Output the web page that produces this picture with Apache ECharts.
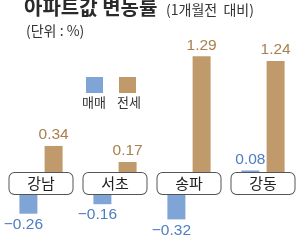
<!DOCTYPE html>
<html><head><meta charset="utf-8">
<script src="https://cdn.jsdelivr.net/npm/echarts@6/dist/echarts.min.js"></script>
<style>html,body{margin:0;padding:0;background:#fff}#c{width:300px;height:243px}</style>
</head><body><div id="c"></div>
<script>
const categories = ['강남', '서초', '송파', '강동'];
const saleValues = [-0.26, -0.16, -0.32, 0.08];   // 매매
const jeonseValues = [0.34, 0.17, 1.29, 1.24];    // 전세
const seriesNames = ['매매', '전세'];

const BLUE = '#7fa4d6', BLUE_T = '#4f7dc2', BROWN = '#c19a6c', BROWN_T = '#a9804f';
const FONT = 'Liberation Sans, Arial, sans-serif';
const KFONT = '"Noto Sans CJK KR", sans-serif';

const pos = a => a.map(v => v > 0 ? v : null);
const neg = a => a.map(v => v < 0 ? v : null);

function fmt(p) { return p.value.toFixed(2).replace('-', '\u2212'); }

function barSeries(name, data, gridIdx, color, tcolor, isNeg) {
  return {
    name, type: 'bar', data, xAxisIndex: gridIdx, yAxisIndex: gridIdx,
    barWidth: 18, barGap: '40%', itemStyle: { color },
    label: {
      show: true, position: isNeg ? 'bottom' : 'top', distance: 3,
      formatter: fmt, color: tcolor, fontSize: 15.5, fontFamily: FONT,
      offset: isNeg ? [-5, 0] : [0, 0]
    }
  };
}

const chart = echarts.init(document.getElementById('c'), null, { renderer: 'canvas' });
chart.setOption({
  animation: false,
  backgroundColor: '#fff',
  title: [
    { text: '아파트값 변동률', left: 24, top: -3, padding: 0,
      textStyle: { fontSize: 20, fontWeight: 'bold', color: '#2a2a2a', fontFamily: KFONT } },
    { text: '(1개월전  대비)', left: 166, top: 3, padding: 0,
      textStyle: { fontSize: 14, fontWeight: 'normal', color: '#333', fontFamily: KFONT } },
    { text: '(단위 : %)', left: 26, top: 24, padding: 0,
      textStyle: { fontSize: 14, fontWeight: 'normal', color: '#333', fontFamily: KFONT } }
  ],
  legend: {
    data: seriesNames, left: 86, top: 77, itemWidth: 17, itemHeight: 16, itemGap: 16,
    icon: 'rect', formatter: () => '', selectedMode: false, padding: 0
  },
  graphic: [
    { type: 'text', left: 82, top: 96, style: { text: seriesNames[0], fill: '#333', font: '13px ' + KFONT } },
    { type: 'text', left: 117, top: 96, style: { text: seriesNames[1], fill: '#333', font: '13px ' + KFONT } }
  ],
  grid: [
    { left: 4, right: 0, top: 46, bottom: 243 - 178 },
    { left: 4, right: 0, top: 189, bottom: 243 - 227 }
  ],
  xAxis: [
    { type: 'category', data: categories, gridIndex: 0, z: 10,
      axisLine: { show: false }, axisTick: { show: false },
      axisLabel: {
        margin: -5, fontSize: 15, color: '#222', fontFamily: KFONT,
        backgroundColor: '#fff', borderColor: '#555', borderWidth: 1, borderRadius: 5,
        width: 63, height: 21, lineHeight: 21, align: 'center', verticalAlign: 'top', padding: 0
      } },
    { type: 'category', data: categories, gridIndex: 1, show: false }
  ],
  yAxis: [
    { type: 'value', gridIndex: 0, min: 0, max: 1.4, show: false, splitLine: { show: false } },
    { type: 'value', gridIndex: 1, min: -0.4, max: 0, show: false, splitLine: { show: false } }
  ],
  series: [
    barSeries(seriesNames[0], pos(saleValues), 0, BLUE, BLUE_T, false),
    barSeries(seriesNames[1], pos(jeonseValues), 0, BROWN, BROWN_T, false),
    barSeries(seriesNames[0], neg(saleValues), 1, BLUE, BLUE_T, true),
    barSeries(seriesNames[1], neg(jeonseValues), 1, BROWN, BROWN_T, true)
  ]
});
</script></body></html>
